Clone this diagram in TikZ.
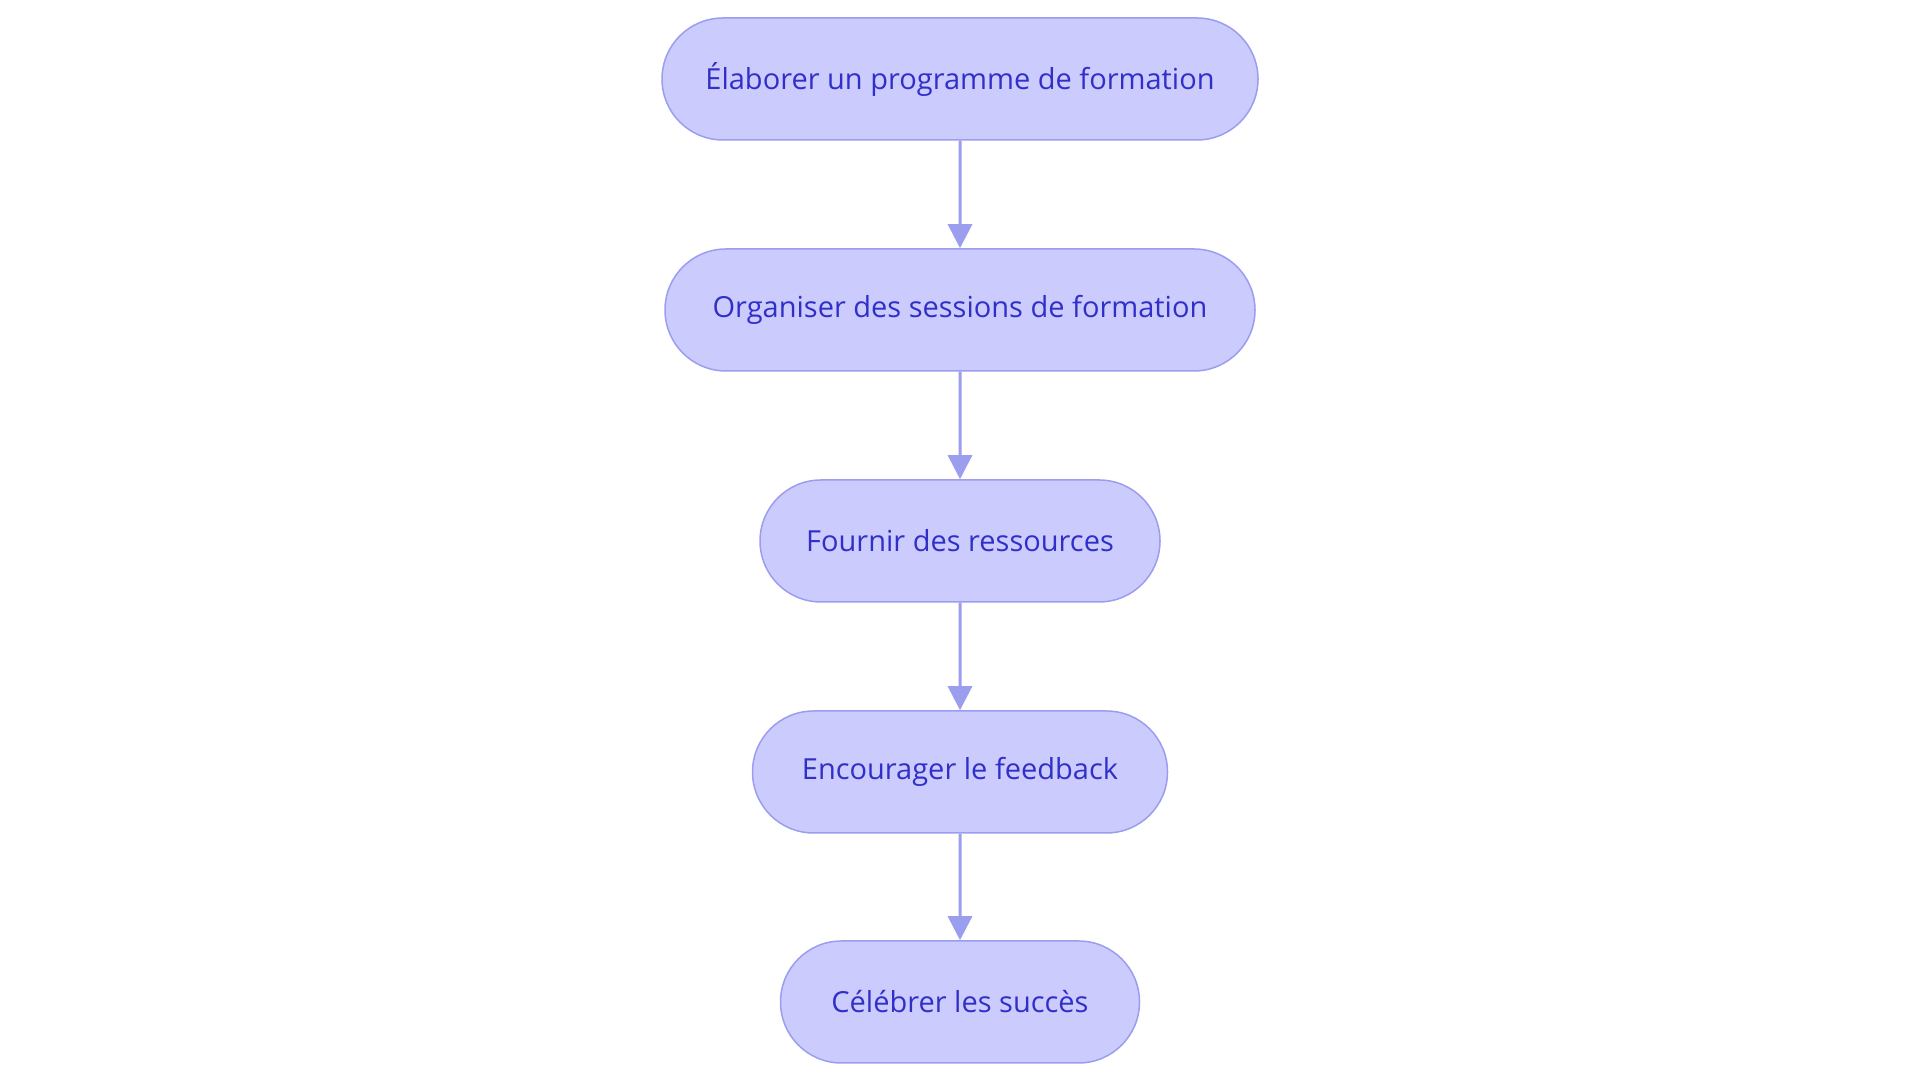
\documentclass[tikz,border=0pt]{standalone}
\usepackage{fontspec}
\setmainfont{Open Sans}
\usetikzlibrary{shapes.misc,arrows.meta}
\definecolor{stepfill}{HTML}{CBCBFE}
\definecolor{stepline}{HTML}{9B9DEE}
\definecolor{steptext}{HTML}{3030C8}
\tikzset{
  step/.style = {rounded rectangle, fill=stepfill, draw=stepline,
                 line width=1.5pt, minimum height=122pt, minimum width=#1,
                 inner sep=0pt, text=steptext, font=\fontsize{29}{33}\selectfont},
  step/.default = 400pt,
  flow/.style = {draw=stepline, line width=3pt,
                 -{Triangle[length=24pt,width=24pt]}}
}

\begin{document}
\begin{tikzpicture}[x=1pt,y=1pt]
	\useasboundingbox (0,0) rectangle (1920,1083);

	% Steps
	\node[step=596pt] (elab)  at (960,1004) {Élaborer un programme de formation};
	\node[step=590pt] (orga)  at (960,773)  {Organiser des sessions de formation};
	\node[step=400pt] (fourn) at (960,542)  {Fournir des ressources};
	\node[step=415pt] (enc)   at (960,311)  {Encourager le feedback};
	\node[step=359pt] (celeb) at (960,81)   {Célébrer les succès};

	% Arrows
	\draw[flow] (elab)  -- (orga);
	\draw[flow] (orga)  -- (fourn);
	\draw[flow] (fourn) -- (enc);
	\draw[flow] (enc)   -- (celeb);
\end{tikzpicture}
\end{document}
